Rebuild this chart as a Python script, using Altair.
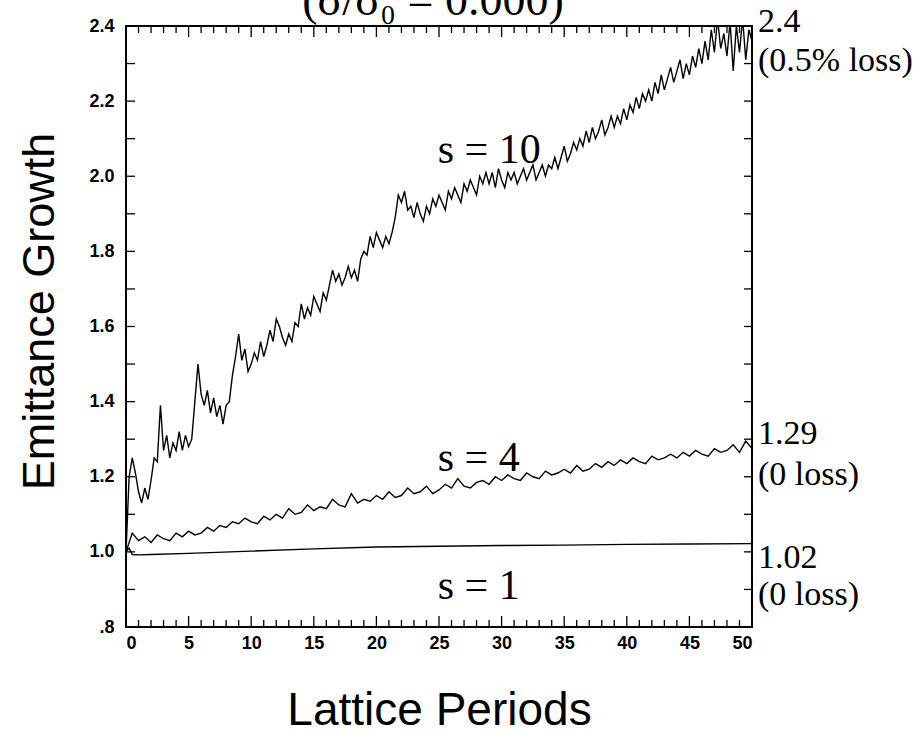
import altair as alt
import pandas as pd

# ---------------- data ----------------
# s = 10 curve, sampled every 0.25 lattice periods; one row per period (0 .. 49), then 50
growth_s10 = [
    1.00, 1.20, 1.25, 1.21,   # 0
    1.16, 1.13, 1.17, 1.14,   # 1
    1.19, 1.25, 1.24, 1.39,   # 2
    1.27, 1.31, 1.25, 1.29,   # 3
    1.27, 1.32, 1.27, 1.31,   # 4
    1.28, 1.30, 1.40, 1.50,   # 5
    1.42, 1.39, 1.43, 1.37,   # 6
    1.41, 1.36, 1.39, 1.34,   # 7
    1.39, 1.40, 1.47, 1.52,   # 8
    1.58, 1.51, 1.54, 1.48,   # 9
    1.50, 1.53, 1.51, 1.56,   # 10
    1.52, 1.55, 1.59, 1.56,   # 11
    1.62, 1.60, 1.57, 1.55,   # 12
    1.58, 1.56, 1.61, 1.60,   # 13
    1.66, 1.62, 1.65, 1.63,   # 14
    1.68, 1.66, 1.64, 1.69,   # 15
    1.67, 1.71, 1.75, 1.72,   # 16
    1.74, 1.71, 1.73, 1.76,   # 17
    1.73, 1.75, 1.72, 1.78,   # 18
    1.80, 1.79, 1.84, 1.81,   # 19
    1.85, 1.83, 1.81, 1.84,   # 20
    1.82, 1.85, 1.89, 1.95,   # 21
    1.93, 1.96, 1.91, 1.92,   # 22
    1.89, 1.93, 1.90, 1.88,   # 23
    1.92, 1.90, 1.94, 1.92,   # 24
    1.95, 1.93, 1.91, 1.96,   # 25
    1.94, 1.97, 1.95, 1.93,   # 26
    1.98, 1.96, 1.99, 1.97,   # 27
    1.95, 2.00, 1.98, 2.01,   # 28
    1.98, 2.01, 1.97, 2.02,   # 29
    1.99, 1.97, 2.01, 1.99,   # 30
    2.01, 1.98, 2.00, 2.02,   # 31
    1.99, 2.01, 2.03, 1.99,   # 32
    2.01, 2.03, 2.00, 2.03,   # 33
    2.02, 2.05, 2.02, 2.05,   # 34
    2.08, 2.04, 2.06, 2.09,   # 35
    2.07, 2.10, 2.08, 2.12,   # 36
    2.09, 2.13, 2.10, 2.12,   # 37
    2.15, 2.11, 2.13, 2.16,   # 38
    2.13, 2.16, 2.14, 2.18,   # 39
    2.15, 2.19, 2.17, 2.21,   # 40
    2.18, 2.22, 2.20, 2.23,   # 41
    2.20, 2.25, 2.22, 2.27,   # 42
    2.23, 2.26, 2.29, 2.25,   # 43
    2.28, 2.31, 2.26, 2.30,   # 44
    2.27, 2.32, 2.29, 2.34,   # 45
    2.30, 2.36, 2.31, 2.39,   # 46
    2.33, 2.42, 2.34, 2.38,   # 47
    2.32, 2.41, 2.28, 2.40,   # 48
    2.33, 2.42, 2.31, 2.39,   # 49
    2.36,                     # 50
]
# s = 4 curve, sampled every 0.5 lattice periods; one row per period
growth_s4 = [
    1.00, 1.05,  1.03, 1.04,  1.025, 1.045,  1.035, 1.03,  1.05, 1.04,
    1.055, 1.045,  1.05, 1.065,  1.055, 1.07,  1.065, 1.08,  1.075, 1.09,
    1.08, 1.075,  1.095, 1.085,  1.10, 1.09,  1.115, 1.10,  1.105, 1.125,
    1.11, 1.12,  1.115, 1.14,  1.125, 1.12,  1.155, 1.13,  1.14, 1.135,
    1.15, 1.14,  1.16, 1.145,  1.15, 1.17,  1.155, 1.16,  1.175, 1.155,
    1.165, 1.18,  1.17, 1.195,  1.175, 1.17,  1.185, 1.19,  1.18, 1.20,
    1.19, 1.205,  1.195, 1.19,  1.21, 1.20,  1.195, 1.215,  1.205, 1.21,
    1.22, 1.21,  1.23, 1.215,  1.22, 1.235,  1.225, 1.24,  1.23, 1.245,
    1.235, 1.25,  1.24, 1.235,  1.255, 1.245,  1.25, 1.26,  1.25, 1.265,
    1.255, 1.27,  1.26, 1.255,  1.275, 1.265,  1.27, 1.285,  1.265, 1.295,
    1.275,
]
# s = 1 curve (nearly flat)
periods_s1 = [0, 0.25, 0.5, 1, 2, 5, 10, 15, 20, 25, 30, 35, 40, 45, 50]
growth_s1 = [1.00, 1.01, 0.993, 0.992, 0.993, 0.996, 1.002, 1.008, 1.013,
             1.015, 1.017, 1.018, 1.02, 1.021, 1.022]

periods_s10 = [i * 0.25 for i in range(len(growth_s10))]
periods_s4 = [i * 0.5 for i in range(len(growth_s4))]

x_major_ticks = [0, 5, 10, 15, 20, 25, 30, 35, 40, 45, 50]
x_minor_ticks = [v for v in range(0, 51) if v % 5 != 0]
y_ticks = [0.8, 0.9, 1.0, 1.1, 1.2, 1.3, 1.4, 1.5, 1.6, 1.7, 1.8, 1.9,
           2.0, 2.1, 2.2, 2.3, 2.4]
y_label_values = [0.8, 1.0, 1.2, 1.4, 1.6, 1.8, 2.0, 2.2, 2.4]

curve_labels = ["s = 10", "s = 4", "s = 1"]
curve_label_x = [24.9, 24.9, 24.9]
curve_label_y = [2.035, 1.215, 0.875]

end_labels = ["2.4", "(0.5% loss)", "1.29", "(0 loss)", "1.02", "(0 loss)"]
end_label_y = [2.384, 2.28, 1.288, 1.179, 0.957, 0.859]

title_text = "(σ/σ₀ = 0.000)"

# ---------------- layout ----------------
W, H = 626, 601
SERIF = "Liberation Serif"
SANS = "Liberation Sans"

lines_df = pd.concat([
    pd.DataFrame({"period": periods_s10, "growth": growth_s10, "series": "s10"}),
    pd.DataFrame({"period": periods_s4, "growth": growth_s4, "series": "s4"}),
    pd.DataFrame({"period": periods_s1, "growth": growth_s1, "series": "s1"}),
])

xscale = alt.Scale(domain=[0, 50], nice=False, zero=False)
yscale = alt.Scale(domain=[0.8, 2.4], nice=False, zero=False)

lines = alt.Chart(lines_df).mark_line(color="black", strokeWidth=1.4, clip=True).encode(
    x=alt.X("period:Q", scale=xscale,
            axis=alt.Axis(values=x_major_ticks, ticks=False, domain=False, grid=False,
                          labelFont=SANS, labelFontSize=18, labelFontWeight="bold",
                          labelColor="black", labelPadding=7, title="Lattice Periods",
                          titleFont=SANS, titleFontSize=46, titleFontWeight="normal",
                          titleColor="black", titlePadding=36)),
    y=alt.Y("growth:Q", scale=yscale,
            axis=alt.Axis(values=y_label_values, ticks=False, domain=False, grid=False,
                          labelFont=SANS, labelFontSize=18, labelFontWeight="bold",
                          labelColor="black", labelPadding=12,
                          labelExpr="datum.value < 0.9 ? '.8' : format(datum.value, '.1f')",
                          title="Emittance Growth", titleFont=SANS, titleFontSize=45,
                          titleFontWeight="normal", titleColor="black", titlePadding=26,
                          titleY=285)),
    detail="series:N",
)

# inward ticks
xmaj = pd.DataFrame({"period": x_major_ticks})
xmin = pd.DataFrame({"period": x_minor_ticks})
yt = pd.DataFrame({"growth": y_ticks})


def xtick_layer(df, length, top):
    if top:
        enc = dict(y=alt.value(0), y2=alt.value(length))
    else:
        enc = dict(y=alt.value(H - length), y2=alt.value(H))
    return alt.Chart(df).mark_rule(color="black", strokeWidth=1.3).encode(
        x=alt.X("period:Q", scale=xscale), **enc)


def ytick_layer(length, right):
    if right:
        enc = dict(x=alt.value(W - length), x2=alt.value(W))
    else:
        enc = dict(x=alt.value(0), x2=alt.value(length))
    return alt.Chart(yt).mark_rule(color="black", strokeWidth=1.3).encode(
        y=alt.Y("growth:Q", scale=yscale), **enc)


ticks = [
    xtick_layer(xmaj, 11, True), xtick_layer(xmin, 7, True),
    xtick_layer(xmaj, 11, False), xtick_layer(xmin, 7, False),
    ytick_layer(9, False), ytick_layer(8, True),
]

curve_text = alt.Chart(pd.DataFrame({
    "period": curve_label_x, "growth": curve_label_y, "label": curve_labels
})).mark_text(font=SERIF, fontSize=42, align="left", baseline="alphabetic",
              color="black").encode(
    x=alt.X("period:Q", scale=xscale), y=alt.Y("growth:Q", scale=yscale), text="label:N")

end_text = alt.Chart(pd.DataFrame({
    "growth": end_label_y, "label": end_labels
})).mark_text(font=SERIF, fontSize=34, align="left", baseline="alphabetic",
              color="black").encode(
    x=alt.value(W + 6), y=alt.Y("growth:Q", scale=yscale), text="label:N")

title = alt.Chart(pd.DataFrame({"t": [title_text]})).mark_text(
    font=SERIF, fontSize=46, align="center", baseline="alphabetic", color="black"
).encode(x=alt.value(307), y=alt.value(-11), text="t:N")

chart = alt.layer(lines, *ticks, curve_text, end_text, title).properties(
    width=W, height=H,
    padding={"left": 126, "top": 26, "right": 920 - 126 - W, "bottom": 738 - 26 - H},
    autosize=alt.AutoSizeParams(type="none"),
    background="white",
).configure_view(stroke="black", strokeWidth=2)

chart.save("out.html", embed_options={"renderer": "svg", "actions": False})
